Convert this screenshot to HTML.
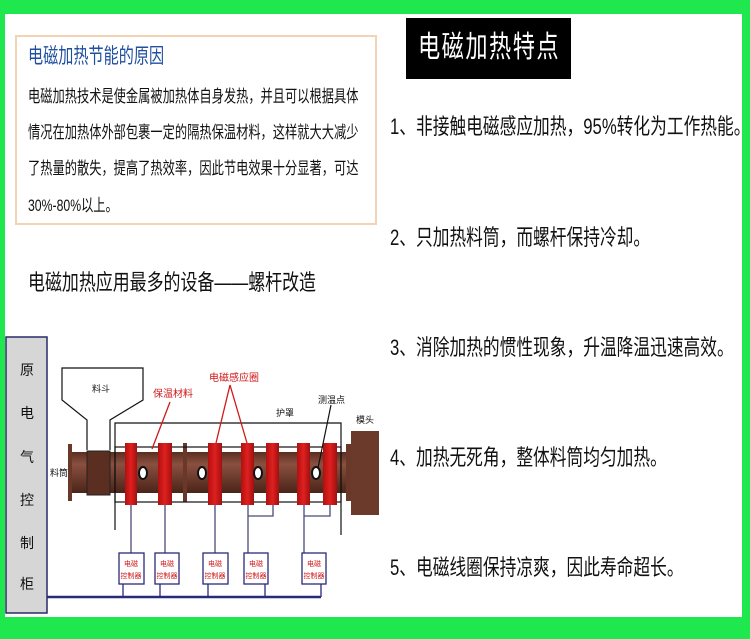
<!DOCTYPE html>
<html><head><meta charset="utf-8"><style>
html,body{margin:0;padding:0}
body{width:750px;height:639px;background:#1ee84e;position:relative;overflow:hidden;font-family:"Liberation Sans","Noto Sans CJK SC",sans-serif}
.page{position:absolute;left:5px;top:14px;width:737px;height:603px;background:#fff}
.t{position:absolute;white-space:nowrap;transform-origin:0 50%;line-height:1}
.box{position:absolute;left:15px;top:35px;width:358px;height:186px;border:2px solid #f2d3b4}
.b{left:28px;font-size:17px;color:#111;transform:scaleX(0.72)}
.i{left:390px;font-size:22px;color:#111;transform:scaleX(0.76)}
</style></head><body>
<div class="page"></div>
<div class="box"></div>
<div class="t" style="left:28px;top:46px;font-size:21px;color:#1f4fa0;transform:scaleX(0.72)">电磁加热节能的原因</div>
<div class="t b" style="top:88px">电磁加热技术是使金属被加热体自身发热，并且可以根据具体</div>
<div class="t b" style="top:124px">情况在加热体外部包裹一定的隔热保温材料，这样就大大减少</div>
<div class="t b" style="top:160px">了热量的散失，提高了热效率，因此节电效果十分显著，可达</div>
<div class="t b" style="top:197px">30%-80%以上。</div>
<div class="t" style="left:28px;top:272px;font-size:22px;color:#111;transform:scaleX(0.77)">电磁加热应用最多的设备——螺杆改造</div>
<div style="position:absolute;left:406px;top:18px;width:165px;height:61px;background:#000"></div>
<div class="t" style="left:418px;top:33px;font-size:30px;color:#fff;letter-spacing:2px;transform:scaleX(0.74)">电磁加热特点</div>
<div class="t i" style="top:116px">1、非接触电磁感应加热，95%转化为工作热能。</div>
<div class="t i" style="top:227px">2、只加热料筒，而螺杆保持冷却。</div>
<div class="t i" style="top:337px">3、消除加热的惯性现象，升温降温迅速高效。</div>
<div class="t i" style="top:447px">4、加热无死角，整体料筒均匀加热。</div>
<div class="t i" style="top:557px">5、电磁线圈保持凉爽，因此寿命超长。</div>
<svg style="position:absolute;left:0;top:0" width="750" height="639" font-family="Liberation Sans,Noto Sans CJK SC,sans-serif">
<defs><linearGradient id="br" x1="0" y1="0" x2="0" y2="1"><stop offset="0" stop-color="#5a2e20"/><stop offset="0.3" stop-color="#8a5040"/><stop offset="1" stop-color="#4a2418"/></linearGradient>
<linearGradient id="cl" x1="0" y1="0" x2="1" y2="0"><stop offset="0" stop-color="#b01010"/><stop offset="0.5" stop-color="#e02020"/><stop offset="1" stop-color="#a01010"/></linearGradient></defs>
<rect x="6" y="337" width="41" height="276" fill="#d6d6d6" stroke="#2a2a6a" stroke-width="1.5"/>
<g font-size="14" fill="#111" text-anchor="middle"><text x="27" y="375">原</text><text x="27" y="418">电</text><text x="27" y="462">气</text><text x="27" y="505">控</text><text x="27" y="548">制</text><text x="27" y="589">柜</text></g>
<rect x="68" y="452" width="284" height="41" fill="url(#br)"/>
<rect x="68" y="444" width="4" height="57" fill="#6a3828"/>
<rect x="183" y="443" width="4" height="59" fill="#6a3828"/>
<rect x="87" y="451" width="23" height="44" fill="#5a2e20" stroke="#222" stroke-width="1"/>
<rect x="346" y="444" width="5" height="57" fill="#6a3828"/>
<rect x="351" y="431" width="28" height="84" fill="#6b3a2a"/>
<polyline points="87,450 87,420 62,400 62,368 143,368 143,400 110,420 110,450" fill="#fff" stroke="#111" stroke-width="1.2"/>
<polyline points="115,530 115,423 341,423 341,535" fill="none" stroke="#111" stroke-width="1.2"/>
<rect x="115" y="447" width="226" height="55" fill="none" stroke="#111" stroke-width="1.2"/>
<g fill="url(#cl)"><rect x="125" y="443" width="12" height="62"/><rect x="158" y="443" width="14" height="62"/><rect x="208" y="443" width="14" height="62"/><rect x="241" y="443" width="13" height="62"/><rect x="266" y="443" width="13" height="62"/><rect x="297" y="443" width="13" height="62"/><rect x="323" y="443" width="14" height="62"/></g>
<g fill="#fff" stroke="#111" stroke-width="2"><ellipse cx="143" cy="473" rx="4" ry="6"/><ellipse cx="202" cy="473" rx="4" ry="6"/><ellipse cx="258" cy="473" rx="4" ry="6"/><ellipse cx="316" cy="473" rx="4" ry="6"/></g>
<g stroke="#4a4a7a" stroke-width="1.3" fill="none"><line x1="131" y1="505" x2="131" y2="553"/><line x1="165" y1="505" x2="165" y2="553"/><line x1="215" y1="505" x2="215" y2="553"/><polyline points="248,505 248,553"/><polyline points="248,516 273,516 273,505"/><polyline points="304,505 304,553"/><polyline points="304,516 330,516 330,505"/></g>
<polyline points="47,597 321,597" stroke="#2a2a7a" stroke-width="2.5"/>
<g stroke="#2a2a7a" stroke-width="1.3"><line x1="123" y1="584" x2="123" y2="597"/><line x1="160" y1="584" x2="160" y2="597"/><line x1="208" y1="584" x2="208" y2="597"/><line x1="265" y1="584" x2="265" y2="597"/><line x1="321" y1="584" x2="321" y2="597"/></g>
<g fill="#fff" stroke="#2a2a7a" stroke-width="1.3"><rect x="119" y="553" width="25" height="31"/><rect x="155" y="553" width="24" height="31"/><rect x="203" y="553" width="25" height="31"/><rect x="244" y="553" width="24" height="31"/><rect x="302" y="553" width="24" height="31"/></g>
<g font-size="7" fill="#d01818" text-anchor="middle"><text x="131" y="566">电磁</text><text x="131" y="578">控制器</text><text x="167" y="566">电磁</text><text x="167" y="578">控制器</text><text x="215" y="566">电磁</text><text x="215" y="578">控制器</text><text x="256" y="566">电磁</text><text x="256" y="578">控制器</text><text x="314" y="566">电磁</text><text x="314" y="578">控制器</text></g>
<g stroke="#d01818" stroke-width="1.3"><line x1="170" y1="402" x2="152" y2="449"/><line x1="230" y1="385" x2="216" y2="443"/><line x1="230" y1="385" x2="247" y2="443"/></g>
<line x1="331" y1="405" x2="318" y2="468" stroke="#111" stroke-width="1.2"/>
<g font-size="9" fill="#111"><text x="92" y="392">料斗</text><text x="50" y="476">料筒</text><text x="276" y="416">护罩</text><text x="318" y="403">测温点</text><text x="356" y="423">模头</text></g>
<g font-size="10" fill="#d01818"><text x="153" y="397">保温材料</text><text x="209" y="381">电磁感应圈</text></g>
</svg>
</body></html>
